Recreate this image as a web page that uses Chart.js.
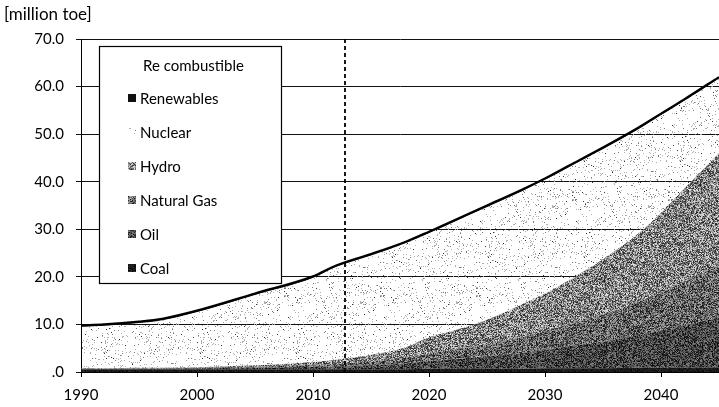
<!DOCTYPE html>
<html>
<head>
<meta charset="utf-8">
<script src="https://cdn.jsdelivr.net/npm/chart.js@4"></script>
<style>
  html, body { margin: 0; padding: 0; background: #fff; }
  canvas { display: block; }
</style>
</head>
<body>
<canvas id="c" width="719" height="407"></canvas>
<script>
// Primary energy supply by source, million toe (history and outlook)
const years = [1990, 1992, 1995, 1997, 2000, 2005, 2010, 2012, 2015, 2018, 2020, 2022, 2025, 2028, 2030, 2032, 2035, 2038, 2040, 2042, 2045];
const coal = [0.6, 0.6, 0.6, 0.6, 0.6, 0.6, 0.6, 0.6, 0.6, 0.6, 0.7, 0.7, 0.7, 0.7, 0.8, 0.8, 0.8, 0.9, 0.9, 0.9, 1.0];
const oil = [0.1, 0.1, 0.1, 0.1, 0.2, 0.3, 0.5, 0.6, 0.8, 1.2, 1.6, 2.0, 2.6, 3.3, 3.9, 4.6, 5.6, 6.8, 7.8, 8.8, 10.5];
const naturalGas = [0.0, 0.0, 0.1, 0.1, 0.1, 0.2, 0.4, 0.5, 0.8, 1.2, 1.6, 2.0, 2.6, 3.3, 3.9, 4.6, 5.7, 7.0, 8.0, 9.2, 11.0];
const hydro = [0.1, 0.1, 0.1, 0.1, 0.1, 0.3, 0.6, 0.9, 1.4, 2.2, 3.4, 3.9, 5.1, 6.9, 7.9, 9.2, 11.6, 14.3, 16.8, 19.6, 23.5];
const nuclear = [8.7, 8.9, 9.4, 10.0, 11.6, 14.8, 17.7, 19.5, 20.9, 21.9, 21.9, 22.8, 23.7, 23.8, 23.9, 23.8, 23.2, 22.0, 20.5, 18.5, 15.7];
const renewables = [0.3, 0.3, 0.3, 0.3, 0.3, 0.3, 0.3, 0.3, 0.3, 0.3, 0.3, 0.3, 0.3, 0.3, 0.3, 0.3, 0.3, 0.3, 0.3, 0.3, 0.3];

const xTickYears = [1990, 2000, 2010, 2020, 2030, 2040];
const yTickValues = [0, 10, 20, 30, 40, 50, 60, 70];
const baseYear = 2012.8;            // last historical year marker
const unitLabel = '[million toe]';
const legendTitle = 'Re combustible';

const FONT = 'Lato, "Open Sans", "Liberation Sans", sans-serif';
const canvas = document.getElementById('c');
const ctx = canvas.getContext('2d');

// small deterministic PRNG for the grain textures
function prng(seed) {
  return function () {
    seed |= 0; seed = (seed + 0x6D2B79F5) | 0;
    let t = Math.imul(seed ^ (seed >>> 15), 1 | seed);
    t = (t + Math.imul(t ^ (t >>> 7), 61 | t)) ^ t;
    return ((t ^ (t >>> 14)) >>> 0) / 4294967296;
  };
}

function texture(seed, pixel) {
  const size = 96;
  const tile = document.createElement('canvas');
  tile.width = tile.height = size;
  const tctx = tile.getContext('2d');
  const img = tctx.createImageData(size, size);
  const rnd = prng(seed);
  for (let i = 0; i < size * size; i++) {
    const [g, a] = pixel(rnd);
    img.data[i * 4] = g; img.data[i * 4 + 1] = g; img.data[i * 4 + 2] = g; img.data[i * 4 + 3] = a;
  }
  tctx.putImageData(img, 0, 0);
  return ctx.createPattern(tile, 'repeat');
}

function grain(mean, spread) {
  return rnd => {
    const v = Math.max(0, Math.min(255, mean + (rnd() - 0.5) * spread));
    return [v, 255];
  };
}

const speckle = rnd => {
  const r = rnd();
  if (r < 0.05) return [175, 255];
  if (r < 0.07) return [120, 255];
  if (r < 0.075) return [50, 255];
  return [255, 0];
};

const fills = {
  coal: texture(11, grain(25, 40)),
  oil: texture(23, grain(68, 130)),
  gas: texture(37, grain(98, 170)),
  hydro: texture(41, grain(132, 200)),
  nuclear: texture(53, speckle),
  renewables: '#111'
};

function series(label, values, fill, extra) {
  return Object.assign({
    label,
    data: years.map((y, i) => ({ x: y, y: values[i] })),
    backgroundColor: fill,
    borderWidth: 0,
    borderColor: 'rgba(0,0,0,0)',
    pointRadius: 0,
    fill: '-1',
    cubicInterpolationMode: 'monotone'
  }, extra || {});
}

const datasets = [
  series('Coal', coal, fills.coal, { fill: 'origin' }),
  series('Oil', oil, fills.oil),
  series('Natural Gas', naturalGas, fills.gas),
  series('Hydro', hydro, fills.hydro),
  series('Nuclear', nuclear, fills.nuclear),
  series('Renewables', renewables, fills.renewables, { borderWidth: 2.2, borderColor: '#000' })
];

// unit caption, base-year marker and boxed legend
const decorations = {
  id: 'decorations',
  afterDatasetsDraw(chart) {
    const c = chart.ctx;
    const area = chart.chartArea;
    const xs = chart.scales.x;

    c.save();
    c.strokeStyle = '#000';
    c.lineWidth = 1.8;
    c.setLineDash([4, 3]);
    const bx = Math.round(xs.getPixelForValue(baseYear));
    c.beginPath();
    c.moveTo(bx, area.top);
    c.lineTo(bx, area.bottom);
    c.stroke();
    c.restore();

    c.save();
    c.fillStyle = '#000';
    c.font = '17px ' + FONT;
    c.textBaseline = 'middle';
    c.textAlign = 'left';
    c.fillText(unitLabel, 4, 15);

    // legend box
    const L = { x: 99.5, y: 46.5, w: 182, h: 237 };
    c.fillStyle = '#fff';
    c.fillRect(L.x, L.y, L.w, L.h);
    c.strokeStyle = '#000';
    c.lineWidth = 1.2;
    c.strokeRect(L.x, L.y, L.w, L.h);

    c.fillStyle = '#000';
    c.font = '15px ' + FONT;
    c.fillText(legendTitle, 143, 66);

    const items = chart.data.datasets.slice().reverse();
    items.forEach((ds, i) => {
      const y = 98 + i * 34;
      c.fillStyle = ds.backgroundColor;
      c.fillRect(128, y - 4, 8, 8);
      c.fillStyle = '#000';
      c.fillText(ds.label, 140, y + 1);
    });
    c.restore();
  }
};

new Chart(canvas, {
  type: 'line',
  data: { datasets },
  options: {
    responsive: false,
    animation: false,
    devicePixelRatio: 1,
    layout: { padding: { top: 39, right: 0, left: 0, bottom: 0 } },
    plugins: {
      legend: { display: false },
      tooltip: { enabled: false },
      filler: { propagate: false }
    },
    elements: { line: { tension: 0 } },
    scales: {
      x: {
        type: 'linear',
        min: 1990,
        max: 2045,
        afterBuildTicks: s => { s.ticks = xTickYears.map(v => ({ value: v })); },
        afterFit: s => { s.height = 35; },
        grid: { drawOnChartArea: false, drawTicks: true, tickLength: 5, color: '#000' },
        border: { display: true, color: '#000', width: 1 },
        ticks: {
          color: '#000',
          padding: 9,
          maxRotation: 0,
          font: { family: FONT, size: 15 },
          callback: v => String(v)
        }
      },
      y: {
        type: 'linear',
        stacked: true,
        min: 0,
        max: 70,
        afterBuildTicks: s => { s.ticks = yTickValues.map(v => ({ value: v })); },
        afterFit: s => { s.width = 81; },
        grid: { color: '#111', lineWidth: 1, drawTicks: true, tickLength: 5 },
        border: { display: true, color: '#000', width: 1 },
        ticks: {
          color: '#000',
          padding: 12,
          font: { family: FONT, size: 15 },
          callback: v => (v === 0 ? '.0' : v.toFixed(1))
        }
      }
    }
  },
  plugins: [decorations]
});
</script>
</body>
</html>
